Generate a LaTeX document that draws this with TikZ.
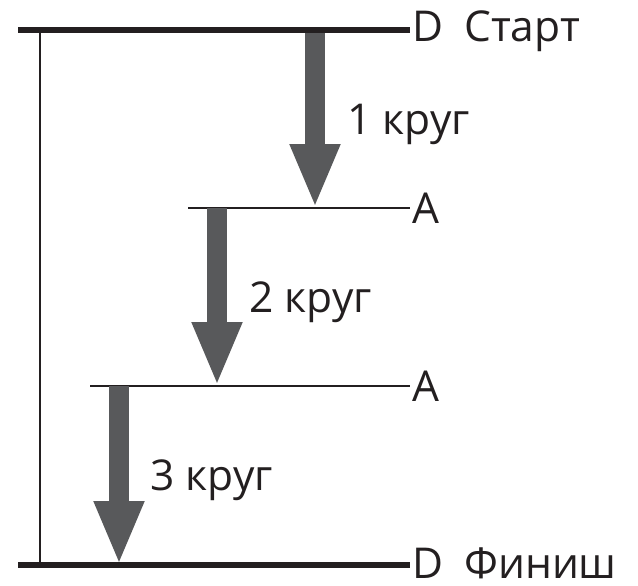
\documentclass[tikz,border=0pt]{standalone}
\usepackage{fontspec}
\setmainfont{Open Sans}
\usetikzlibrary{arrows.meta}
\definecolor{lineblack}{HTML}{231F20}
\definecolor{arrowgray}{HTML}{58595B}
\tikzset{
  thickline/.style={draw=lineblack, line width=6pt},
  thinline/.style={draw=lineblack, line width=1.8pt},
  lap/.style={draw=arrowgray, line width=20pt, -{Triangle[length=64pt, width=46pt]}},
  lbl/.style={font=\fontsize{42.5}{46}\selectfont, text=lineblack, inner sep=0pt, anchor=base west}
}
\begin{document}
\begin{tikzpicture}[x=1pt, y=-1pt]
\useasboundingbox (0,0) rectangle (638,586);
% coordinates
\coordinate (tl) at (18,30);
\coordinate (tr) at (410,30);
\coordinate (bl) at (18,565);
\coordinate (br) at (410,565);
\coordinate (vt) at (40,30);
\coordinate (vb) at (40,565);
\coordinate (m1l) at (188,208);
\coordinate (m1r) at (410,208);
\coordinate (m2l) at (90,386);
\coordinate (m2r) at (410,386);
\coordinate (a1s) at (315,32);
\coordinate (a1e) at (315,208);
\coordinate (a2s) at (217,208);
\coordinate (a2e) at (217,386);
\coordinate (a3s) at (119,386);
\coordinate (a3e) at (119,565);
% lines
\draw[thinline] (vt) -- (vb);
\draw[thinline] (m1l) -- (m1r);
\draw[thinline] (m2l) -- (m2r);
% arrows
\draw[lap] (a1s) -- (a1e);
\draw[lap] (a2s) -- (a2e);
\draw[lap] (a3s) -- (a3e);
\draw[thickline] (tl) -- (tr);
\draw[thickline] (bl) -- (br);
% labels
\node[lbl] (d1) at (412,42) {D};
\node[lbl] (start) at (464,42) {Старт};
\node[lbl] (aa1) at (412,223) {A};
\node[lbl] (aa2) at (412,401) {A};
\node[lbl] (d2) at (412,578) {D};
\node[lbl] (finish) at (464,578) {Финиш};
\node[lbl] (k1) at (347,135) {1 круг};
\node[lbl] (k2) at (249,312) {2 круг};
\node[lbl] (k3) at (150,490) {3 круг};
\end{tikzpicture}
\end{document}
